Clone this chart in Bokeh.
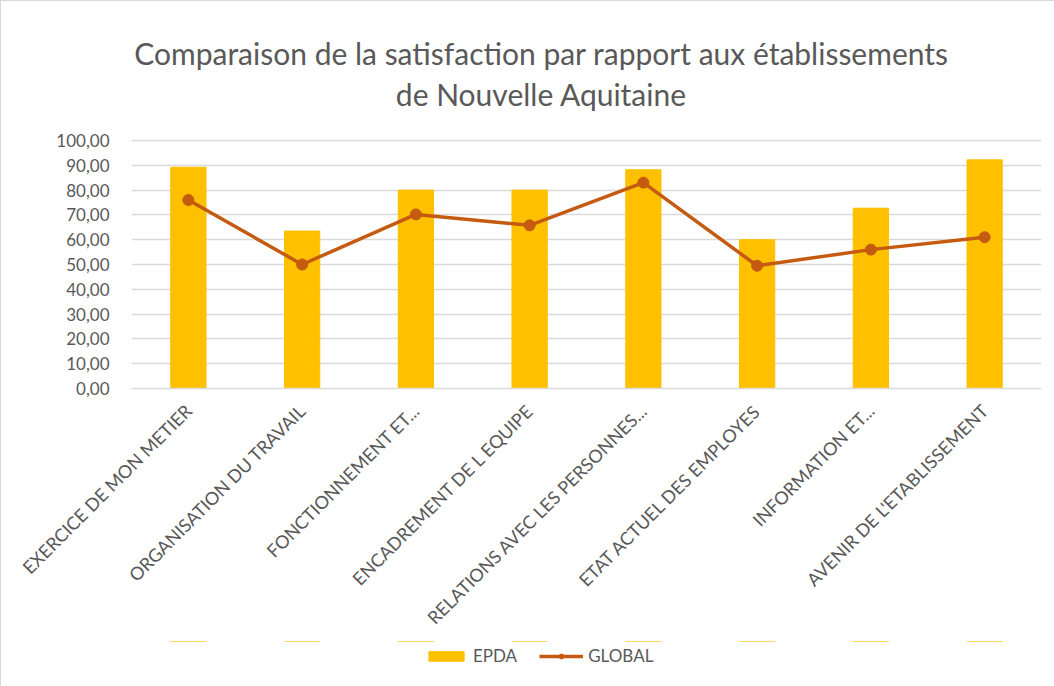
import math
from bokeh.plotting import figure
from bokeh.layouts import column
from bokeh.models import FactorRange, Range1d, FixedTicker, Legend, LegendItem, Label, ColumnDataSource
from bokeh.embed import file_html
from bokeh.resources import INLINE

categories = ["EXERCICE DE MON METIER", "ORGANISATION DU TRAVAIL", "FONCTIONNEMENT ET...",
              "ENCADREMENT DE L EQUIPE", "RELATIONS AVEC LES PERSONNES...", "ETAT ACTUEL DES EMPLOYES",
              "INFORMATION ET...", "AVENIR DE L'ETABLISSEMENT"]
epda = [89.2, 63.5, 80.0, 80.0, 88.2, 60.0, 72.7, 92.2]
global_vals = [76.0, 50.0, 70.2, 65.8, 83.0, 49.5, 56.0, 61.0]
y_ticks = [0, 10, 20, 30, 40, 50, 60, 70, 80, 90, 100]
y_tick_labels = ["0,00", "10,00", "20,00", "30,00", "40,00", "50,00", "60,00", "70,00", "80,00", "90,00", "100,00"]
title_lines = ["Comparaison de la satisfaction par rapport aux établissements", "de Nouvelle Aquitaine"]

FONT = "Lato"
GRAY = "#595959"
BAR_COLOR = "#FFC000"
LINE_COLOR = "#C55A11"

src = ColumnDataSource(dict(cat=categories, epda=epda, glob=global_vals))

# main chart: frame goes from the top of the canvas down to the 0 line; the
# range above 100 leaves room for the title inside the frame
p = figure(width=1054, height=640, x_range=FactorRange(*categories), y_range=Range1d(0, 156.05),
           output_backend="svg", toolbar_location=None)
p.min_border_left = 130
p.min_border_right = 14
p.min_border_top = 0
p.min_border_bottom = 253
p.outline_line_color = None

p.vbar(x="cat", top="epda", width=0.31, source=src, color=BAR_COLOR)
p.line(x="cat", y="glob", source=src, line_color=LINE_COLOR, line_width=3.5)
p.scatter(x="cat", y="glob", source=src, size=11, fill_color=LINE_COLOR, line_color=LINE_COLOR)

x_center = 3.604
for txt, yv in zip(title_lines, [135.1, 118.95]):
    p.add_layout(Label(x=x_center, y=yv, text=txt, text_align="center", text_baseline="middle",
                       text_font=FONT, text_font_size="30px", text_color=GRAY))

p.yaxis.ticker = FixedTicker(ticks=y_ticks)
p.yaxis.major_label_overrides = {t: l for t, l in zip(y_ticks, y_tick_labels)}
p.yaxis.axis_line_color = None
p.yaxis.major_tick_line_color = None
p.yaxis.minor_tick_line_color = None
p.yaxis.major_label_text_font = FONT
p.yaxis.major_label_text_font_size = "17px"
p.yaxis.major_label_text_color = GRAY
p.yaxis.major_label_standoff = 16

p.xaxis.axis_line_color = "#d9d9d9"
p.xaxis.axis_line_width = 1.5
p.xaxis.major_tick_line_color = None
p.xaxis.minor_tick_line_color = None
p.xaxis.major_label_orientation = math.pi / 4
p.xaxis.major_label_text_font = FONT
p.xaxis.major_label_text_font_size = "18px"
p.xaxis.major_label_text_color = GRAY
p.xaxis.major_label_standoff = 13

p.xgrid.grid_line_color = None
p.ygrid.grid_line_color = "#d9d9d9"
p.ygrid.grid_line_width = 1.5

# legend strip below the chart: same data and styles, but the y range is set
# so the glyphs themselves fall outside the strip and only the legend shows
lg = figure(width=1054, height=46, output_backend="svg", toolbar_location=None,
            x_range=p.x_range, y_range=Range1d(-2, -1),
            x_axis_location=None, y_axis_location=None)
lg.min_border_left = 130
lg.min_border_right = 14
lg.min_border_top = 0
lg.min_border_bottom = 0
lg.outline_line_color = None
lg.grid.grid_line_color = None
r_bar = lg.vbar(x="cat", top="epda", width=0.31, source=src, color=BAR_COLOR)
r_line = lg.line(x="cat", y="glob", source=src, line_color=LINE_COLOR, line_width=3.5)
r_pts = lg.scatter(x="cat", y="glob", source=src, size=11, fill_color=LINE_COLOR, line_color=LINE_COLOR)
legend = Legend(items=[LegendItem(label="EPDA", renderers=[r_bar]),
                       LegendItem(label="GLOBAL", renderers=[r_line, r_pts])],
                orientation="horizontal", location=(293, 21), label_text_font=FONT,
                label_text_font_size="17px", label_text_color=GRAY, border_line_color=None,
                background_fill_alpha=0, glyph_width=44, glyph_height=12, label_standoff=5,
                spacing=22, margin=0, padding=2)
lg.add_layout(legend)

layout = column(p, lg, spacing=0)
layout.styles = {"border": "1px solid #d9d9d9"}

open("out.html", "w").write(file_html(layout, INLINE))
